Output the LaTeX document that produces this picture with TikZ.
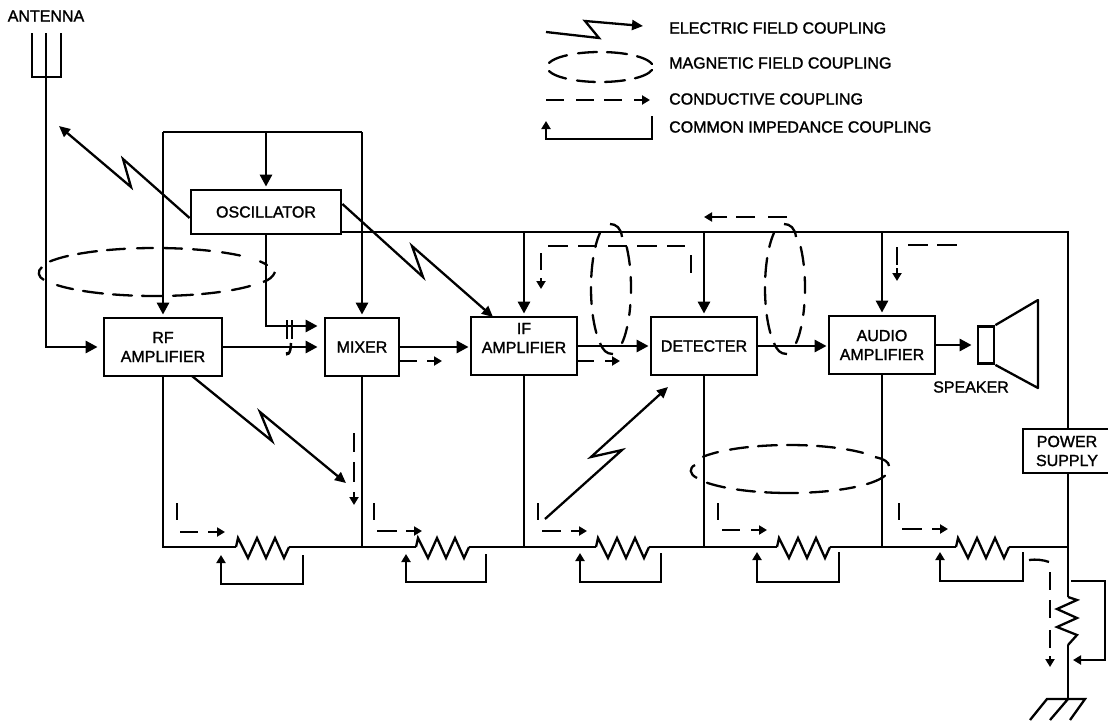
\documentclass[tikz,border=0pt]{standalone}
\usepackage{fontspec}
\setmainfont[FakeBold=1.5]{Liberation Sans}
\usetikzlibrary{arrows.meta}
\newcommand{\hdsh}[7]{\draw[cond,line cap=round] plot[domain=#6:#7,samples=7,variable=\t] (\t,{#2+#5*#4*sqrt(max(0,1-((\t-#1)/#3)^2))});}
\newcommand{\vdsh}[7]{\draw[cond,line cap=round] plot[domain=#6:#7,samples=7,variable=\t] ({#1+#5*#3*sqrt(max(0,1-((\t-#2)/#4)^2))},\t);}
\tikzset{
  wire/.style={line width=2.8pt,line join=miter},
  arr/.style={wire,-{Triangle[length=12pt,width=12pt]},shorten >=2pt},
  elec/.style={line width=2.3pt,-{Triangle[length=11pt,width=10pt]}},
  imp/.style={line width=2.3pt,-{Triangle[length=8pt,width=9pt]}},
  cond/.style={line width=2.3pt},
  condarr/.style={line width=2.3pt,-{Triangle[length=8pt,width=9pt]}},
  blk/.style={draw,line width=2.8pt,fill=white,align=center,inner sep=0pt,font=\fontsize{16}{19}\selectfont},
  lbl/.style={inner sep=0pt,align=center,font=\fontsize{16}{19}\selectfont},
  leg/.style={inner sep=0pt,anchor=west,font=\fontsize{16}{19}\selectfont},
}
\begin{document}
\begin{tikzpicture}[x=1pt,y=-1pt]
\useasboundingbox (0,0) rectangle (1108,720);
% blocks
\node[blk,minimum width=118pt,minimum height=58pt] (rf) at (163,347) {RF\\AMPLIFIER};
\node[blk,minimum width=150pt,minimum height=44pt] (osc) at (266,212) {OSCILLATOR};
\node[blk,minimum width=74pt,minimum height=58pt] (mix) at (362,347) {MIXER};
\node[blk,minimum width=106pt,minimum height=58pt] (ifa) at (524,346) {IF\\AMPLIFIER\\[-3pt]\mbox{}};
\node[blk,minimum width=106pt,minimum height=58pt] (det) at (704,346) {DETECTER};
\node[blk,minimum width=106pt,minimum height=58pt] (aud) at (882,345) {AUDIO\\AMPLIFIER};
\node[blk,minimum width=88pt,minimum height=44pt] (psu) at (1067,451) {POWER\\SUPPLY};
% speaker
\node[draw,line width=2.8pt,minimum width=16pt,minimum height=37pt,inner sep=0pt] (spk) at (986,345) {};
\draw[line width=2.3pt,line join=round] (spk.north east) -- (1038,300) -- (1038,388) -- (spk.south east);
\node[lbl] (spklab) at (971,387) {SPEAKER};
% antenna
\node[lbl] (antlab) at (46,16) {ANTENNA};
\coordinate (a1) at (32,33); \coordinate (a2) at (46,33); \coordinate (a3) at (61,33);
\coordinate (a0) at (46,77);
\draw[wire] (a1) |- (a3 |- a0) -- (a3);
\draw[arr,shorten >=5pt] (a2) |- (rf.west);
% oscillator supply
\coordinate (t2) at (osc.north |- 0,132);
\coordinate (t3) at (mix.north |- 0,132);
\coordinate (t1) at (rf.north |- 0,132);
\draw[wire] (t1) -- (t3);
\draw[arr] (t1) -- (rf.north);
\draw[arr] (t3) -- (mix.north);
\draw[arr] (t2) -- (osc.north);
% oscillator to mixer
\coordinate (m1) at (mix.west |- 0,326);
\draw[arr,shorten >=6pt] (osc.south) |- (m1);
\draw[arr,shorten >=6pt] (rf.east) -- (mix.west);
% capacitor marks / coupling
\coordinate (c1) at (287,320); \coordinate (c2) at (287,339);
\coordinate (c3) at (292,320); \coordinate (c4) at (292,339);
\draw[line width=2.5pt] (c1) -- (c2) (c3) -- (c4);
\coordinate (j1) at (291,343); \coordinate (j2) at (287,352);
\draw[line width=2.5pt] (j1) .. controls (291,355) and (286,356) .. (j2);
% signal path
\draw[arr,shorten >=1pt] (mix.east) -- (mix.east -| ifa.west);
\draw[arr,shorten >=1pt] (ifa.east) -- (det.west);
\draw[arr,shorten >=1pt] (det.east) -- (det.east -| aud.west);
\draw[arr,shorten >=5pt] (aud.east) -- (spk.west);
% top rail
\coordinate (rt) at (1068,232);
\coordinate (ifr) at (ifa.north |- rt); \coordinate (detr) at (det.north |- rt); \coordinate (audr) at (aud.north |- rt);
\draw[wire] (osc.east |- rt) -- (rt) -- (psu.north -| rt);
\draw[arr] (ifr) -- (ifa.north);
\draw[arr] (detr) -- (det.north);
\draw[arr] (audr) -- (aud.north);
% resistors and bottom rail
\foreach \n/\x in {1/236,2/416,3/596,4/777,5/956}{
  \coordinate (r\n a) at (\x,547);
  \coordinate (r\n b) at (\x+53,547);
  \draw[line width=2.3pt,line join=miter] (r\n a) -- ++(2,-9) -- ++(10,20) -- ++(9,-20) -- ++(9,20) -- ++(9,-20) -- ++(9,20) -- (r\n b);
}
\coordinate (gnd) at (1068,547);
\draw[wire] (rf.south) |- (r1a);
\draw[wire] (r1b) -- (r2a) (r2b) -- (r3a) (r3b) -- (r4a) (r4b) -- (r5a) (r5b) -- (gnd);
\draw[wire] (mix.south) -- (mix.south |- gnd);
\draw[wire] (ifa.south) -- (ifa.south |- gnd);
\draw[wire] (det.south) -- (det.south |- gnd);
\draw[wire] (aud.south) -- (aud.south |- gnd);
\draw[wire] (psu.south -| gnd) -- (gnd);
% vertical resistor and ground
\coordinate (v1) at (1068,597); \coordinate (v2) at (1068,645); \coordinate (g0) at (1068,699);
\draw[wire] (gnd) -- (v1);
\draw[line width=2.3pt] (v1) -- (1077,600) -- (1057,609) -- (1077,618) -- (1057,627) -- (1077,635) -- (v2);
\draw[line width=2.3pt] (v2) -- (g0);
\draw[line width=2.3pt] (1030,720) -- (1047,699) -- (1085,699) -- (1070,720) (g0) -- (1050,720);
% common impedance brackets
\foreach \a/\b/\c/\d in {221/303/555/584,406/486/554/582,580/661/553/582,757/839/552/582,940/1023/552/581}{
  \draw[imp] (\b,\c) |- (\a,\d) -- (\a,\c);
}
\coordinate (vb1) at (1071,581); \coordinate (vb2) at (1105,581); \coordinate (vb3) at (1105,660); \coordinate (vb4) at (1073,660);
\draw[imp] (vb1) -- (vb2) -- (vb3) -- (vb4);
% electric field couplings
\coordinate (e1) at (131,187); \coordinate (e2) at (123,159); \coordinate (e3) at (59,126);
\draw[elec] (osc.west |- 0,218) -- (e2) -- (e1) -- (e3);
\coordinate (e4) at (423,277); \coordinate (e5) at (412,246);
\draw[elec] (osc.east |- 0,204) -- (e4) -- (e5) -- (493,317);
\coordinate (e6) at (272,441); \coordinate (e7) at (260,412); \coordinate (e8) at (346,483);
\draw[elec] (192,376) -- (e6) -- (e7) -- (e8);
\coordinate (e9) at (545,519); \coordinate (e10) at (622,450); \coordinate (e11) at (591,457); \coordinate (e12) at (668,387);
\draw[elec] (e9) -- (e10) -- (e11) -- (e12);
% conductive couplings
\foreach \a/\b in {399/417,577/594}{ \draw[cond] (\a,361) -- (\b,361); }
\foreach \a/\b in {427/442,605/620}{ \draw[condarr] (\a,361) -- (\b,361); }
\foreach \a/\b in {548/568,578/597,608/627,637/657,667/685}{ \draw[cond] (\a,246) -- (\b,246); }
\draw[cond] (541,253) -- (541,270);
\draw[condarr] (541,278) -- (541,289);
\draw[cond] (691,255) -- (691,273);
\foreach \a/\b in {787/768,755/736}{ \draw[cond] (\a,217) -- (\b,217); }
\draw[condarr] (727,217) -- (704,217);
\draw[cond] (897,247) -- (897,265);
\draw[condarr] (897,268) -- (897,281);
\foreach \a/\b in {908/928,937/957}{ \draw[cond] (\a,245) -- (\b,245); }
\foreach \v/\a/\b/\c/\d/\h in {177/180/198/208/225/532,374/377/397/406/422/531,538/542/561/571/587/531,718/722/740/751/767/530,899/902/922/932/948/529}{
  \draw[cond] (\v,503) -- (\v,520);
  \draw[cond] (\a,\h) -- (\b,\h);
  \draw[condarr] (\c,\h) -- (\d,\h);
}
\draw[cond] (354,433) -- (354,452) (354,462) -- (354,482);
\draw[condarr] (354,492) -- (354,505);
\draw[cond] (1029,560) .. controls (1036,559) and (1044,560) .. (1049,562);
\draw[cond] (1050,572) -- (1050,590) (1050,600) -- (1050,618) (1050,630) -- (1050,648);
\draw[condarr] (1050,656) -- (1050,667);
% magnetic: oscillator / RF loop
\foreach \a/\b in {50/68,78/97,107/125,137/153,163/182,193/210,222/240,260/267}{ \hdsh{155}{272}{117}{24}{-1}{\a}{\b} }
\foreach \a/\b in {57/73,83/103,113/132,142/162,173/193,202/220,232/250}{ \hdsh{155}{272}{117}{24}{1}{\a}{\b} }
\draw[cond] (42,267) .. controls (37,271) and (38,277) .. (44,280);
\draw[cond] (275,272) .. controls (273,277) and (269,280) .. (263,282);
% magnetic: vertical loops
\foreach \cx in {611,785}{
  \foreach \a/\b in {233/247,258/277,287/304,315/333}{ \vdsh{\cx}{288}{20}{66}{-1}{\a}{\b} }
  \foreach \a/\b in {247/265,277/293,305/315,327/343}{ \vdsh{\cx}{288}{20}{66}{1}{\a}{\b} }
  \draw[cond] (\cx-11,343) .. controls (\cx-8,350) and (\cx-5,354) .. (\cx+2,354);
  \draw[cond] (\cx-1,224) .. controls (\cx+5,224) and (\cx+10,228) .. (\cx+11,237);
}
% magnetic: detector / audio loop
\foreach \a/\b in {703/718,730/748,758/777,787/807,817/835,847/863}{ \hdsh{789}{469}{100}{24}{-1}{\a}{\b} }
\foreach \a/\b in {707/725,737/755,765/798,810/828,840/855,867/885}{ \hdsh{789}{469}{100}{24}{1}{\a}{\b} }
\draw[cond] (875,457) .. controls (884,459) and (889,462) .. (889,466);
\draw[cond] (695,465) .. controls (689,468) and (689,474) .. (697,478);
% legend
\coordinate (l1) at (546,32); \coordinate (l2) at (599,38); \coordinate (l3) at (585,21); \coordinate (l4) at (643,26);
\draw[elec] (l1) -- (l2) -- (l3) -- (l4);
\node[leg] (lt1) at (669,28) {ELECTRIC FIELD COUPLING};
\foreach \a/\b in {549/567,578/597,607/627,637/652}{ \hdsh{600}{67}{53}{15}{-1}{\a}{\b} }
\foreach \a/\b in {549/566,577/595,605/625,635/652}{ \hdsh{600}{67}{53}{15}{1}{\a}{\b} }
\node[leg] (lt2) at (669,63) {MAGNETIC FIELD COUPLING};
\foreach \a/\b in {546/564,576/594,604/622}{ \draw[cond] (\a,100) -- (\b,100); }
\draw[condarr] (634,100) -- (650,100);
\node[leg] (lt3) at (669,99) {CONDUCTIVE COUPLING};
\draw[imp] (652,116) |- (546,139) -- (546,121);
\node[leg] (lt4) at (669,127) {COMMON IMPEDANCE COUPLING};
\end{tikzpicture}
\end{document}
